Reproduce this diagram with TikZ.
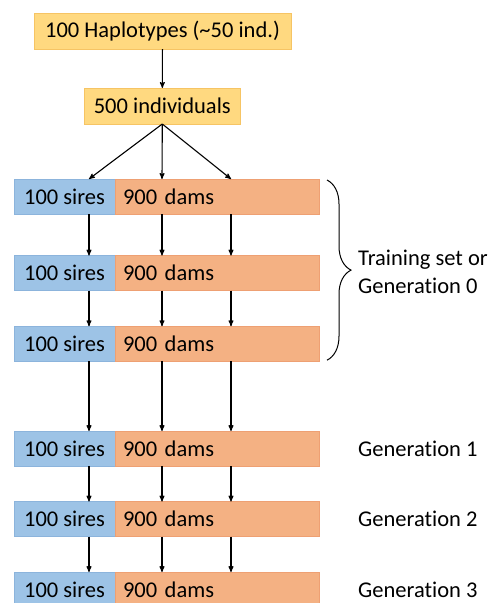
\documentclass[tikz,border=0pt]{standalone}
\usepackage{fontspec}
\setmainfont[Ligatures={NoCommon}]{Carlito}
\usepackage{tikz}
\usetikzlibrary{arrows,calc,positioning,decorations.pathreplacing}

\definecolor{popfill}{RGB}{255,217,128}
\definecolor{popline}{RGB}{246,196,100}
\definecolor{sirefill}{RGB}{157,195,230}
\definecolor{sireline}{RGB}{140,180,220}
\definecolor{damfill}{RGB}{244,177,131}
\definecolor{damline}{RGB}{238,160,115}

\begin{document}
\begin{tikzpicture}[x=1pt,y=-1pt,>=stealth',font=\fontsize{22.5}{28}\selectfont,
		pop/.style={draw=popline,fill=popfill,line width=0.8pt,minimum height=36pt,inner sep=0pt,outer sep=0pt},
		sire/.style={draw=sireline,fill=sirefill,line width=0.8pt,minimum width=101pt,minimum height=35pt,inner sep=0pt,outer sep=0pt},
		dam/.style={draw=damline,fill=damfill,line width=0.8pt,text width=188pt,inner xsep=8pt,inner ysep=0pt,minimum height=35pt,outer sep=0pt,align=left},
		gen/.style={anchor=west,inner sep=0pt,align=left},
		flow/.style={->,line width=1.1pt}]
	\useasboundingbox (0,0) rectangle (492,603);
	\node[pop,minimum width=257pt] (hap) at (162.5,31) {100 Haplotypes (\textasciitilde50 ind.)};
	\node[pop,minimum width=156pt] (ind) at (162.3,106) {500 individuals};
	\coordinate (c1) at (89,0);
	\coordinate (c2) at (162,0);
	\coordinate (c3) at (231,0);
	\coordinate (tx) at (358,0);
	% generations
	\foreach \i/\y in {1/196.5,2/273,3/343.7,4/448.5,5/519,6/589.5}{
		\node[sire] (s\i) at (64.5,\y) {100 sires};
		\node[dam,right=0pt of s\i] (d\i) {900 dams};
	}
	\draw[flow] (hap) -- (ind);
	\draw[flow] (ind.south) -- (s1.north -| c1);
	\draw[flow] (ind.south) -- (d1.north -| c2);
	\draw[flow] (ind.south) -- (d1.north -| c3);
	\foreach \i/\j in {1/2,2/3,3/4,4/5,5/6}{
		\draw[flow] (s\i.south -| c1) -- (s\j.north -| c1);
		\draw[flow] (d\i.south -| c2) -- (d\j.north -| c2);
		\draw[flow] (d\i.south -| c3) -- (d\j.north -| c3);
	}
	\draw[line width=1pt,decorate,decoration={brace,amplitude=24pt}]
		($(d1.north east)+(8,1)$) -- ($(d3.south east)+(8,-1)$);
	\node[gen] (train) at ($(d2.west -| tx)+(0,-1)$) {Training set or\\Generation 0};
	\foreach \i/\k in {4/1,5/2,6/3}
		\node[gen] (g\k) at (d\i.west -| tx) {Generation \k};
\end{tikzpicture}
\end{document}
